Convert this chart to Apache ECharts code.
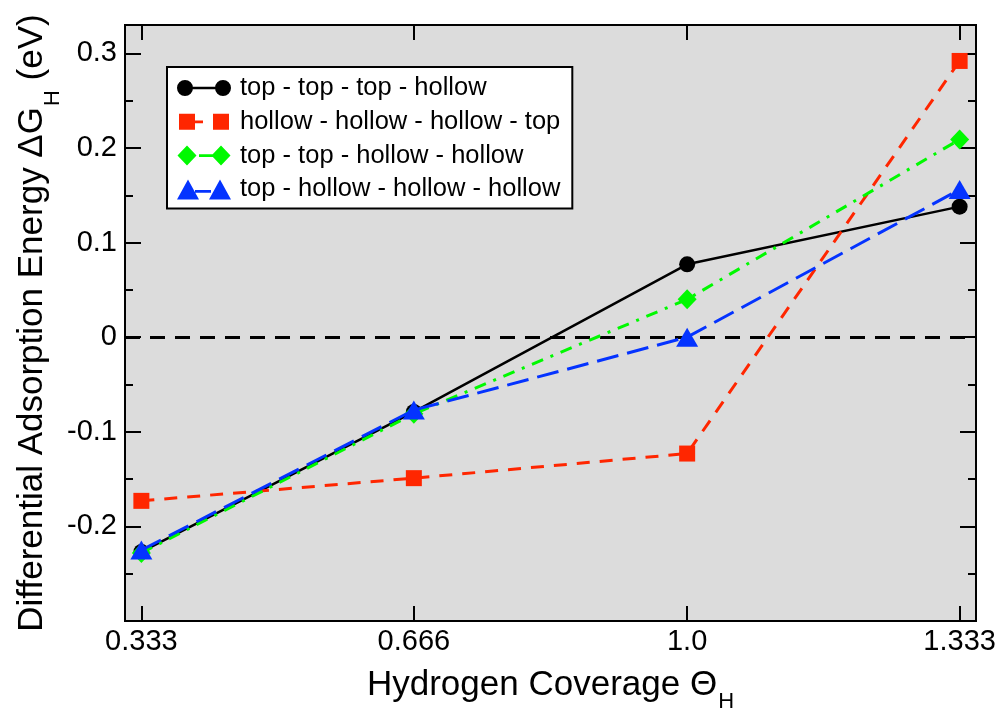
<!DOCTYPE html>
<html>
<head>
<meta charset="utf-8">
<script src="https://cdn.jsdelivr.net/npm/echarts@6/dist/echarts.min.js"></script>
<style>
  html, body { margin: 0; padding: 0; background: #ffffff; }
  #chart { width: 998px; height: 709px; }
</style>
</head>
<body>
<div id="chart"></div>
<script>
// Hydrogen coverage (x) and differential adsorption energy in eV (y)
const coverage = [0.333, 0.666, 1.0, 1.333];
const topTopTopHollow = [-0.227, -0.079, 0.077, 0.138];
const hollowHollowHollowTop = [-0.173, -0.149, -0.123, 0.292];
const topTopHollowHollow = [-0.228, -0.081, 0.040, 0.209];
const topHollowHollowHollow = [-0.225, -0.077, 0.000, 0.156];

const seriesNames = [
  'top - top - top - hollow',
  'hollow - hollow - hollow - top',
  'top - top - hollow - hollow',
  'top - hollow - hollow - hollow'
];

// Axis ticks and their labels
const xTickValues = [0.333, 0.666, 1.0, 1.333];
const xTickLabels = ['0.333', '0.666', '1.0', '1.333'];
const yMajorTicks = [-0.2, -0.1, 0, 0.1, 0.2, 0.3];
const yTickLabels = ['-0.2', '-0.1', '0', '0.1', '0.2', '0.3'];
const yMinorTicks = [-0.25, -0.15, -0.05, 0.05, 0.15, 0.25];

const FONT = "'Liberation Sans', Arial, Helvetica, sans-serif";
const COLORS = ['#000000', '#ff2600', '#00f900', '#0433ff'];

const X_MIN = 0.313, X_MAX = 1.353;
const Y_MIN = -0.3, Y_MAX = 0.33;

function labelFor(values, labels) {
  return function (v) {
    for (let i = 0; i < values.length; i++) {
      if (Math.abs(values[i] - v) < 1e-6) return labels[i];
    }
    return '';
  };
}

function pairs(ys) {
  return coverage.map((x, i) => [x, ys[i]]);
}

// Legend glyphs: two markers joined by a short line, in a 54 x 20 frame
const FRAME = 'M0,0 L0,0 Z M54,20 L54,20 Z ';
const legendIcons = [
  'path://' + FRAME +
    'M0,10 A8,8 0 1,1 16,10 A8,8 0 1,1 0,10 Z ' +
    'M15,8.8 L39,8.8 L39,11.2 L15,11.2 Z ' +
    'M38,10 A8,8 0 1,1 54,10 A8,8 0 1,1 38,10 Z',
  'path://' + FRAME +
    'M2,2 L18,2 L18,18 L2,18 Z ' +
    'M17,8.6 L26,8.6 L26,11.4 L17,11.4 Z ' +
    'M36,2 L52,2 L52,18 L36,18 Z',
  'path://' + FRAME +
    'M0.5,10 L10,0 L19.5,10 L10,20 Z ' +
    'M22,8.7 L36,8.7 L36,11.3 L22,11.3 Z ' +
    'M34.5,10 L44,0 L53.5,10 L44,20 Z',
  'path://' + FRAME +
    'M0,20 L11,0 L22,20 Z ' +
    'M18,10.7 L34,10.7 L34,13.3 L18,13.3 Z ' +
    'M32,20 L43,0 L54,20 Z'
];

const tickStyle = { color: '#000', width: 2 };

function xAxisDef(position, withLabels) {
  return {
    type: 'value',
    position: position,
    min: X_MIN,
    max: X_MAX,
    axisLine: { show: false, onZero: false },
    splitLine: { show: false },
    axisTick: {
      show: true, inside: true, length: 15,
      customValues: xTickValues, lineStyle: tickStyle
    },
    axisLabel: {
      show: withLabels,
      customValues: xTickValues,
      formatter: labelFor(xTickValues, xTickLabels),
      fontFamily: FONT, fontSize: 29, color: '#000', margin: 6
    }
  };
}

function yAxisDef(position, ticks, len, withLabels) {
  return {
    type: 'value',
    position: position,
    min: Y_MIN,
    max: Y_MAX,
    axisLine: { show: false, onZero: false },
    splitLine: { show: false },
    axisTick: {
      show: true, inside: true, length: len,
      customValues: ticks, lineStyle: tickStyle
    },
    axisLabel: {
      show: withLabels,
      customValues: yMajorTicks,
      formatter: labelFor(yMajorTicks, yTickLabels),
      fontFamily: FONT, fontSize: 29, color: '#000', margin: 8
    }
  };
}

const xBottom = xAxisDef('bottom', true);
xBottom.name = '{m|Hydrogen Coverage Θ}{s|H}';
xBottom.nameLocation = 'middle';
xBottom.nameGap = 47;
xBottom.nameMoveOverlap = false;
xBottom.nameTextStyle = {
  rich: {
    m: { fontFamily: FONT, fontSize: 35, color: '#000', verticalAlign: 'top' },
    s: { fontFamily: FONT, fontSize: 22, color: '#000', verticalAlign: 'top', padding: [23, 0, 0, 1] }
  }
};

const yLeft = yAxisDef('left', yMajorTicks, 16, true);
yLeft.name = '{m|Differential Adsorption Energy ΔG}{s|H}{m| (eV)}';
yLeft.nameLocation = 'middle';
yLeft.nameGap = 61;
yLeft.nameMoveOverlap = false;
yLeft.nameRotate = 90;
yLeft.nameTextStyle = {
  rich: {
    m: { fontFamily: FONT, fontSize: 35, color: '#000', verticalAlign: 'top' },
    s: { fontFamily: FONT, fontSize: 22, color: '#000', verticalAlign: 'top', padding: [27, 0, 0, 1] }
  }
};

const markerSpecs = [
  { symbol: 'circle', size: 16, line: { width: 2.5, type: 'solid' } },
  { symbol: 'rect', size: 16, line: { width: 3, type: [13, 10] } },
  { symbol: 'diamond', size: [19, 20], line: { width: 3, type: [12, 8, 3, 8] } },
  { symbol: 'triangle', size: [22, 19], line: { width: 3, type: [22, 9] } }
];
const seriesValues = [topTopTopHollow, hollowHollowHollowTop, topTopHollowHollow, topHollowHollowHollow];

const series = seriesValues.map((vals, i) => ({
  name: seriesNames[i],
  type: 'line',
  xAxisIndex: 0,
  yAxisIndex: 0,
  data: pairs(vals),
  symbol: markerSpecs[i].symbol,
  symbolSize: markerSpecs[i].size,
  showSymbol: true,
  showAllSymbol: true,
  itemStyle: { color: COLORS[i], borderWidth: 0 },
  lineStyle: { color: COLORS[i], width: markerSpecs[i].line.width, type: markerSpecs[i].line.type, cap: 'butt' },
  emphasis: { disabled: true },
  z: 3 + i
}));

// zero reference line across the plot
series[0].markLine = {
  silent: true,
  symbol: ['none', 'none'],
  label: { show: false },
  lineStyle: { color: '#000', width: 3, type: [15, 10] },
  emphasis: { disabled: true },
  data: [{ yAxis: 0 }]
};

const chart = echarts.init(document.getElementById('chart'), null, { renderer: 'canvas' });
chart.setOption({
  animation: false,
  backgroundColor: '#ffffff',
  textStyle: { fontFamily: FONT },
  grid: {
    left: 125, right: 22, top: 25, bottom: 88,
    containLabel: false,
    outerBoundsMode: 'none',
    show: true,
    backgroundColor: '#dcdcdc',
    borderColor: '#000',
    borderWidth: 2
  },
  legend: {
    orient: 'vertical',
    left: 167,
    top: 67,
    padding: [8, 12, 6, 10],
    itemGap: 7.8,
    itemWidth: 54,
    itemHeight: 20,
    selectedMode: false,
    backgroundColor: '#ffffff',
    borderColor: '#000',
    borderWidth: 2,
    borderRadius: 0,
    textStyle: { fontFamily: FONT, fontSize: 25.5, color: '#000', lineHeight: 25.5, padding: [0, 0, 0, 4] },
    data: seriesNames.map((n, i) => ({ name: n, icon: legendIcons[i] }))
  },
  xAxis: [xBottom, xAxisDef('top', false)],
  yAxis: [
    yLeft,
    yAxisDef('left', yMinorTicks, 8, false),
    yAxisDef('right', yMajorTicks, 16, false),
    yAxisDef('right', yMinorTicks, 8, false)
  ],
  series: series
});
</script>
</body>
</html>
